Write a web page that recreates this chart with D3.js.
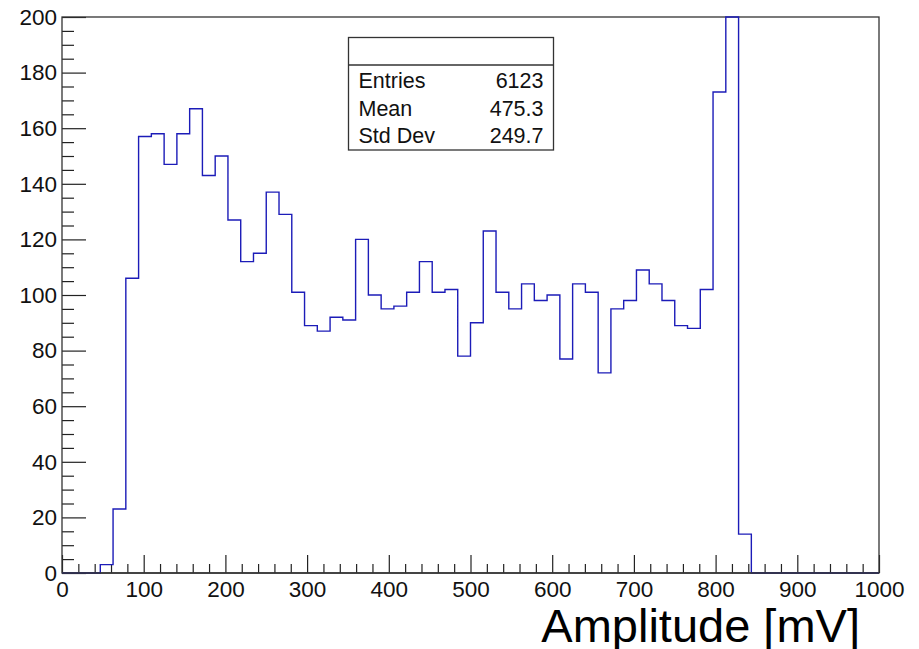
<!DOCTYPE html>
<html>
<head>
<meta charset="utf-8">
<script src="https://cdn.jsdelivr.net/npm/d3@7"></script>
<style>
  body { margin: 0; background: #fff; }
  svg { display: block; font-family: "Liberation Sans", Arial, Helvetica, sans-serif; }
</style>
</head>
<body>
<div id="main"></div>
<script>
// histogram binning: 64 bins from 0 to 1000 mV
const xMin = 0;
const xMax = 1000;
const nBins = 64;

// bin contents (bin 52 runs off the top of the frame)
const counts = [
  0, 0, 0, 3, 23, 106, 157, 158, 147, 158,
  167, 143, 150, 127, 112, 115, 137, 129, 101, 89,
  87, 92, 91, 120, 100, 95, 96, 101, 112, 101,
  102, 78, 90, 123, 101, 95, 104, 98, 100, 77,
  104, 101, 72, 95, 98, 109, 104, 98, 89, 88,
  102, 173, 891, 14, 0, 0, 0, 0, 0, 0,
  0, 0, 0, 0
];

const xMajorTicks = [0, 100, 200, 300, 400, 500, 600, 700, 800, 900, 1000];
const yMajorTicks = [0, 20, 40, 60, 80, 100, 120, 140, 160, 180, 200];

const statLabels = ["Entries", "Mean", "Std Dev"];
const statValues = ["6123", "475.3", "249.7"];

const xTitle = "Amplitude [mV]";

const svgWidth = 919;
const svgHeight = 649;
const margin = { left: 62, top: 17, right: 40, bottom: 76 };
const width = svgWidth - margin.left - margin.right;
const height = svgHeight - margin.top - margin.bottom;

const svg = d3.select("#main")
              .append("svg")
              .attr("width", svgWidth)
              .attr("height", svgHeight);

const g = svg.append("g")
             .attr("transform", "translate(" + margin.left + "," + margin.top + ")");

const xScale = d3.scaleLinear()
                 .domain([xMin, xMax])
                 .range([0, width]);

const yScale = d3.scaleLinear()
                 .domain([0, 200])
                 .range([height, 0])
                 .clamp(true);

const binWidth = (xMax - xMin) / nBins;

// minor ticks
const xMinor = d3.range(xMin, xMax + 1, 20).filter(v => v % 100 !== 0);
const yMinor = d3.range(0, 201, 5).filter(v => v % 20 !== 0);

g.append("g")
 .attr("class", "x-minor")
 .attr("transform", "translate(0," + height + ")")
 .call(d3.axisBottom(xScale).tickValues(xMinor).tickSize(-9).tickSizeOuter(0).tickFormat(""));

g.append("g")
 .attr("class", "y-minor")
 .call(d3.axisLeft(yScale).tickValues(yMinor).tickSize(-12).tickSizeOuter(0).tickFormat(""));

g.append("g")
 .attr("class", "x-axis")
 .attr("transform", "translate(0," + height + ")")
 .call(d3.axisBottom(xScale).tickValues(xMajorTicks).tickSize(-18).tickSizeOuter(0).tickPadding(8).tickFormat(d3.format("d")));

g.append("g")
 .attr("class", "y-axis")
 .call(d3.axisLeft(yScale).tickValues(yMajorTicks).tickSize(-24).tickSizeOuter(0).tickPadding(5).tickFormat(d3.format("d")));

svg.selectAll(".domain").remove();
svg.selectAll(".tick line").attr("stroke", "#222").attr("stroke-width", 1.2);
svg.selectAll(".tick text")
   .attr("fill", "#111")
   .style("font-size", "22.5px");

// frame
g.append("rect")
 .attr("x", 0)
 .attr("y", 0)
 .attr("width", width)
 .attr("height", height)
 .attr("fill", "none")
 .attr("stroke", "#333")
 .attr("stroke-width", 1.3);

// histogram outline
const points = counts.map((c, i) => [xMin + i * binWidth, c]);
points.unshift([xMin, 0]);
points.push([xMax, counts[counts.length - 1]]);

const line = d3.line()
               .x(d => xScale(d[0]))
               .y(d => yScale(d[1]))
               .curve(d3.curveStepAfter);

g.append("path")
 .datum(points)
 .attr("d", line)
 .attr("fill", "none")
 .attr("stroke", "#1c1cb8")
 .attr("stroke-width", 1.4);

// x axis line drawn over the empty bins
g.append("line")
 .attr("x1", 0)
 .attr("x2", width)
 .attr("y1", height)
 .attr("y2", height)
 .attr("stroke", "#333")
 .attr("stroke-width", 1.3);

// stats box
const box = { x: 348.5, y: 37.5, w: 205, h: 112.5, head: 27.5 };
const stats = svg.append("g").attr("class", "stats");

stats.append("rect")
     .attr("x", box.x)
     .attr("y", box.y)
     .attr("width", box.w)
     .attr("height", box.h)
     .attr("fill", "#fff")
     .attr("stroke", "#333")
     .attr("stroke-width", 1.3);

stats.append("line")
     .attr("x1", box.x)
     .attr("x2", box.x + box.w)
     .attr("y1", box.y + box.head)
     .attr("y2", box.y + box.head)
     .attr("stroke", "#333")
     .attr("stroke-width", 1.3);

const rowY = [87.5, 115.7, 143.4];

stats.selectAll(".stat-label")
     .data(statLabels)
     .enter()
     .append("text")
     .attr("class", "stat-label")
     .attr("x", box.x + 10)
     .attr("y", (d, i) => rowY[i])
     .style("font-size", "21.5px")
     .attr("fill", "#111")
     .text(d => d);

stats.selectAll(".stat-value")
     .data(statValues)
     .enter()
     .append("text")
     .attr("class", "stat-value")
     .attr("x", box.x + box.w - 10)
     .attr("y", (d, i) => rowY[i])
     .attr("text-anchor", "end")
     .style("font-size", "21.5px")
     .attr("fill", "#111")
     .text(d => d);

// axis title
svg.append("text")
   .attr("x", 860)
   .attr("y", 641.5)
   .attr("text-anchor", "end")
   .style("font-size", "47px")
   .attr("fill", "#000")
   .text(xTitle);
</script>
</body>
</html>
